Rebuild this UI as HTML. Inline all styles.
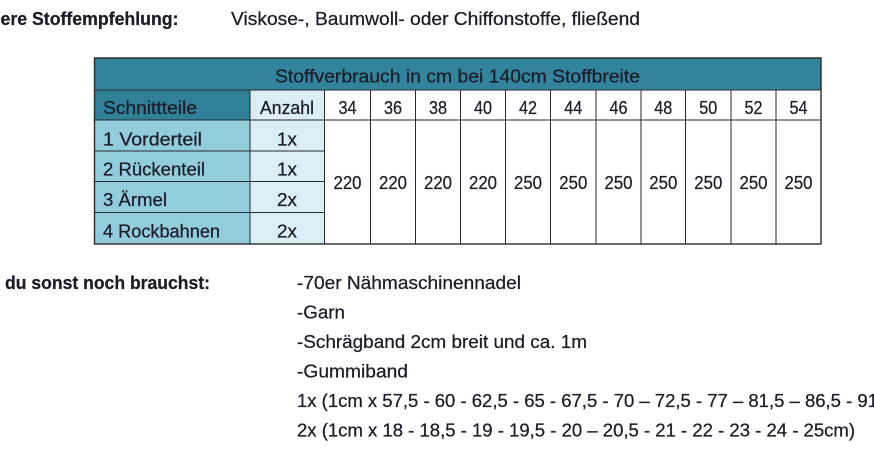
<!DOCTYPE html>
<html><head><meta charset="utf-8">
<style>
html,body{margin:0;padding:0;background:#fff;width:874px;height:450px;overflow:hidden}
svg{display:block}
text{font-family:"Liberation Sans",Arial,sans-serif;font-size:18px;fill:#1c1c28;stroke:#1c1c28;stroke-width:0.25px}
.b{font-weight:bold}
</style></head>
<body>
<svg width="874" height="450" viewBox="0 0 874 450" xmlns="http://www.w3.org/2000/svg">
<rect x="0" y="0" width="874" height="450" fill="#fff"/>

<!-- top line -->
<text class="b" x="0.5" y="25" textLength="178" lengthAdjust="spacingAndGlyphs">ere Stoffempfehlung:</text>
<text x="231" y="25" textLength="409" lengthAdjust="spacingAndGlyphs">Viskose-, Baumwoll- oder Chiffonstoffe, fließend</text>

<!-- table fills -->
<rect x="94.5" y="58" width="726.5" height="32" fill="#31849B"/>
<rect x="94.5" y="90" width="155.5" height="30" fill="#2F8098"/>
<rect x="250" y="90" width="74.5" height="30" fill="#DAEEF3"/>
<rect x="94.5" y="120" width="155.5" height="124" fill="#92CDDC"/>
<rect x="250" y="120" width="74.5" height="124" fill="#DAEEF3"/>
<rect x="324.5" y="90" width="496.5" height="154" fill="#fff"/>

<!-- grid lines -->
<g stroke="#2a2a2a" stroke-width="1" fill="none">
  <line x1="94.5" y1="90" x2="821" y2="90"/>
  <line x1="94.5" y1="120" x2="821" y2="120"/>
  <line x1="94.5" y1="151" x2="324.5" y2="151"/>
  <line x1="94.5" y1="181.5" x2="324.5" y2="181.5"/>
  <line x1="94.5" y1="212.5" x2="324.5" y2="212.5"/>
  <line x1="250" y1="90" x2="250" y2="244"/>
  <line x1="324.5" y1="90" x2="324.5" y2="244"/>
  <line x1="370.5" y1="90" x2="370.5" y2="244"/>
  <line x1="415.5" y1="90" x2="415.5" y2="244"/>
  <line x1="460.5" y1="90" x2="460.5" y2="244"/>
  <line x1="505.5" y1="90" x2="505.5" y2="244"/>
  <line x1="550.5" y1="90" x2="550.5" y2="244"/>
  <line x1="596" y1="90" x2="596" y2="244"/>
  <line x1="641" y1="90" x2="641" y2="244"/>
  <line x1="685.5" y1="90" x2="685.5" y2="244"/>
  <line x1="731" y1="90" x2="731" y2="244"/>
  <line x1="776" y1="90" x2="776" y2="244"/>
  <rect x="94.5" y="58" width="726.5" height="186" stroke-width="1.4"/>
</g>

<!-- table text -->
<text x="457.5" y="82.5" text-anchor="middle" textLength="365" lengthAdjust="spacingAndGlyphs">Stoffverbrauch in cm bei 140cm Stoffbreite</text>
<text x="103" y="114" textLength="94" lengthAdjust="spacingAndGlyphs">Schnittteile</text>
<text x="287" y="114" text-anchor="middle" textLength="54" lengthAdjust="spacingAndGlyphs">Anzahl</text>
<g text-anchor="middle">
  <text x="347.5" y="114" textLength="18" lengthAdjust="spacingAndGlyphs">34</text>
  <text x="393" y="114" textLength="18" lengthAdjust="spacingAndGlyphs">36</text>
  <text x="438" y="114" textLength="18" lengthAdjust="spacingAndGlyphs">38</text>
  <text x="483" y="114" textLength="18" lengthAdjust="spacingAndGlyphs">40</text>
  <text x="528" y="114" textLength="18" lengthAdjust="spacingAndGlyphs">42</text>
  <text x="573.3" y="114" textLength="18" lengthAdjust="spacingAndGlyphs">44</text>
  <text x="618.5" y="114" textLength="18" lengthAdjust="spacingAndGlyphs">46</text>
  <text x="663.3" y="114" textLength="18" lengthAdjust="spacingAndGlyphs">48</text>
  <text x="708.3" y="114" textLength="18" lengthAdjust="spacingAndGlyphs">50</text>
  <text x="753.5" y="114" textLength="18" lengthAdjust="spacingAndGlyphs">52</text>
  <text x="798.5" y="114" textLength="18" lengthAdjust="spacingAndGlyphs">54</text>

  <text x="347.5" y="189" textLength="28" lengthAdjust="spacingAndGlyphs">220</text>
  <text x="393" y="189" textLength="28" lengthAdjust="spacingAndGlyphs">220</text>
  <text x="438" y="189" textLength="28" lengthAdjust="spacingAndGlyphs">220</text>
  <text x="483" y="189" textLength="28" lengthAdjust="spacingAndGlyphs">220</text>
  <text x="528" y="189" textLength="28" lengthAdjust="spacingAndGlyphs">250</text>
  <text x="573.3" y="189" textLength="28" lengthAdjust="spacingAndGlyphs">250</text>
  <text x="618.5" y="189" textLength="28" lengthAdjust="spacingAndGlyphs">250</text>
  <text x="663.3" y="189" textLength="28" lengthAdjust="spacingAndGlyphs">250</text>
  <text x="708.3" y="189" textLength="28" lengthAdjust="spacingAndGlyphs">250</text>
  <text x="753.5" y="189" textLength="28" lengthAdjust="spacingAndGlyphs">250</text>
  <text x="798.5" y="189" textLength="28" lengthAdjust="spacingAndGlyphs">250</text>

  <text x="287" y="145.5" textLength="20" lengthAdjust="spacingAndGlyphs">1x</text>
  <text x="287" y="175.5" textLength="20" lengthAdjust="spacingAndGlyphs">1x</text>
  <text x="287" y="206" textLength="20" lengthAdjust="spacingAndGlyphs">2x</text>
  <text x="287" y="237.5" textLength="20" lengthAdjust="spacingAndGlyphs">2x</text>
</g>
<text x="103" y="145.5" textLength="99" lengthAdjust="spacingAndGlyphs">1 Vorderteil</text>
<text x="103" y="175.5" textLength="102" lengthAdjust="spacingAndGlyphs">2 Rückenteil</text>
<text x="103" y="206" textLength="64" lengthAdjust="spacingAndGlyphs">3 Ärmel</text>
<text x="103" y="237.5" textLength="117" lengthAdjust="spacingAndGlyphs">4 Rockbahnen</text>

<!-- lower section -->
<text class="b" x="5" y="289" textLength="205" lengthAdjust="spacingAndGlyphs">du sonst noch brauchst:</text>
<text x="297" y="289" textLength="224" lengthAdjust="spacingAndGlyphs">-70er Nähmaschinennadel</text>
<text x="297" y="318.5" textLength="48" lengthAdjust="spacingAndGlyphs">-Garn</text>
<text x="297" y="348" textLength="290" lengthAdjust="spacingAndGlyphs">-Schrägband 2cm breit und ca. 1m</text>
<text x="297" y="377.5" textLength="111" lengthAdjust="spacingAndGlyphs">-Gummiband</text>
<text x="297" y="407" textLength="581" lengthAdjust="spacingAndGlyphs">1x (1cm x 57,5 - 60 - 62,5 - 65 - 67,5 - 70 – 72,5 - 77 – 81,5 – 86,5 - 91</text>
<text x="297" y="436.5" textLength="558" lengthAdjust="spacingAndGlyphs">2x (1cm x 18 - 18,5 - 19 - 19,5 - 20 – 20,5 - 21 - 22 - 23 - 24 - 25cm)</text>
</svg>
</body></html>
